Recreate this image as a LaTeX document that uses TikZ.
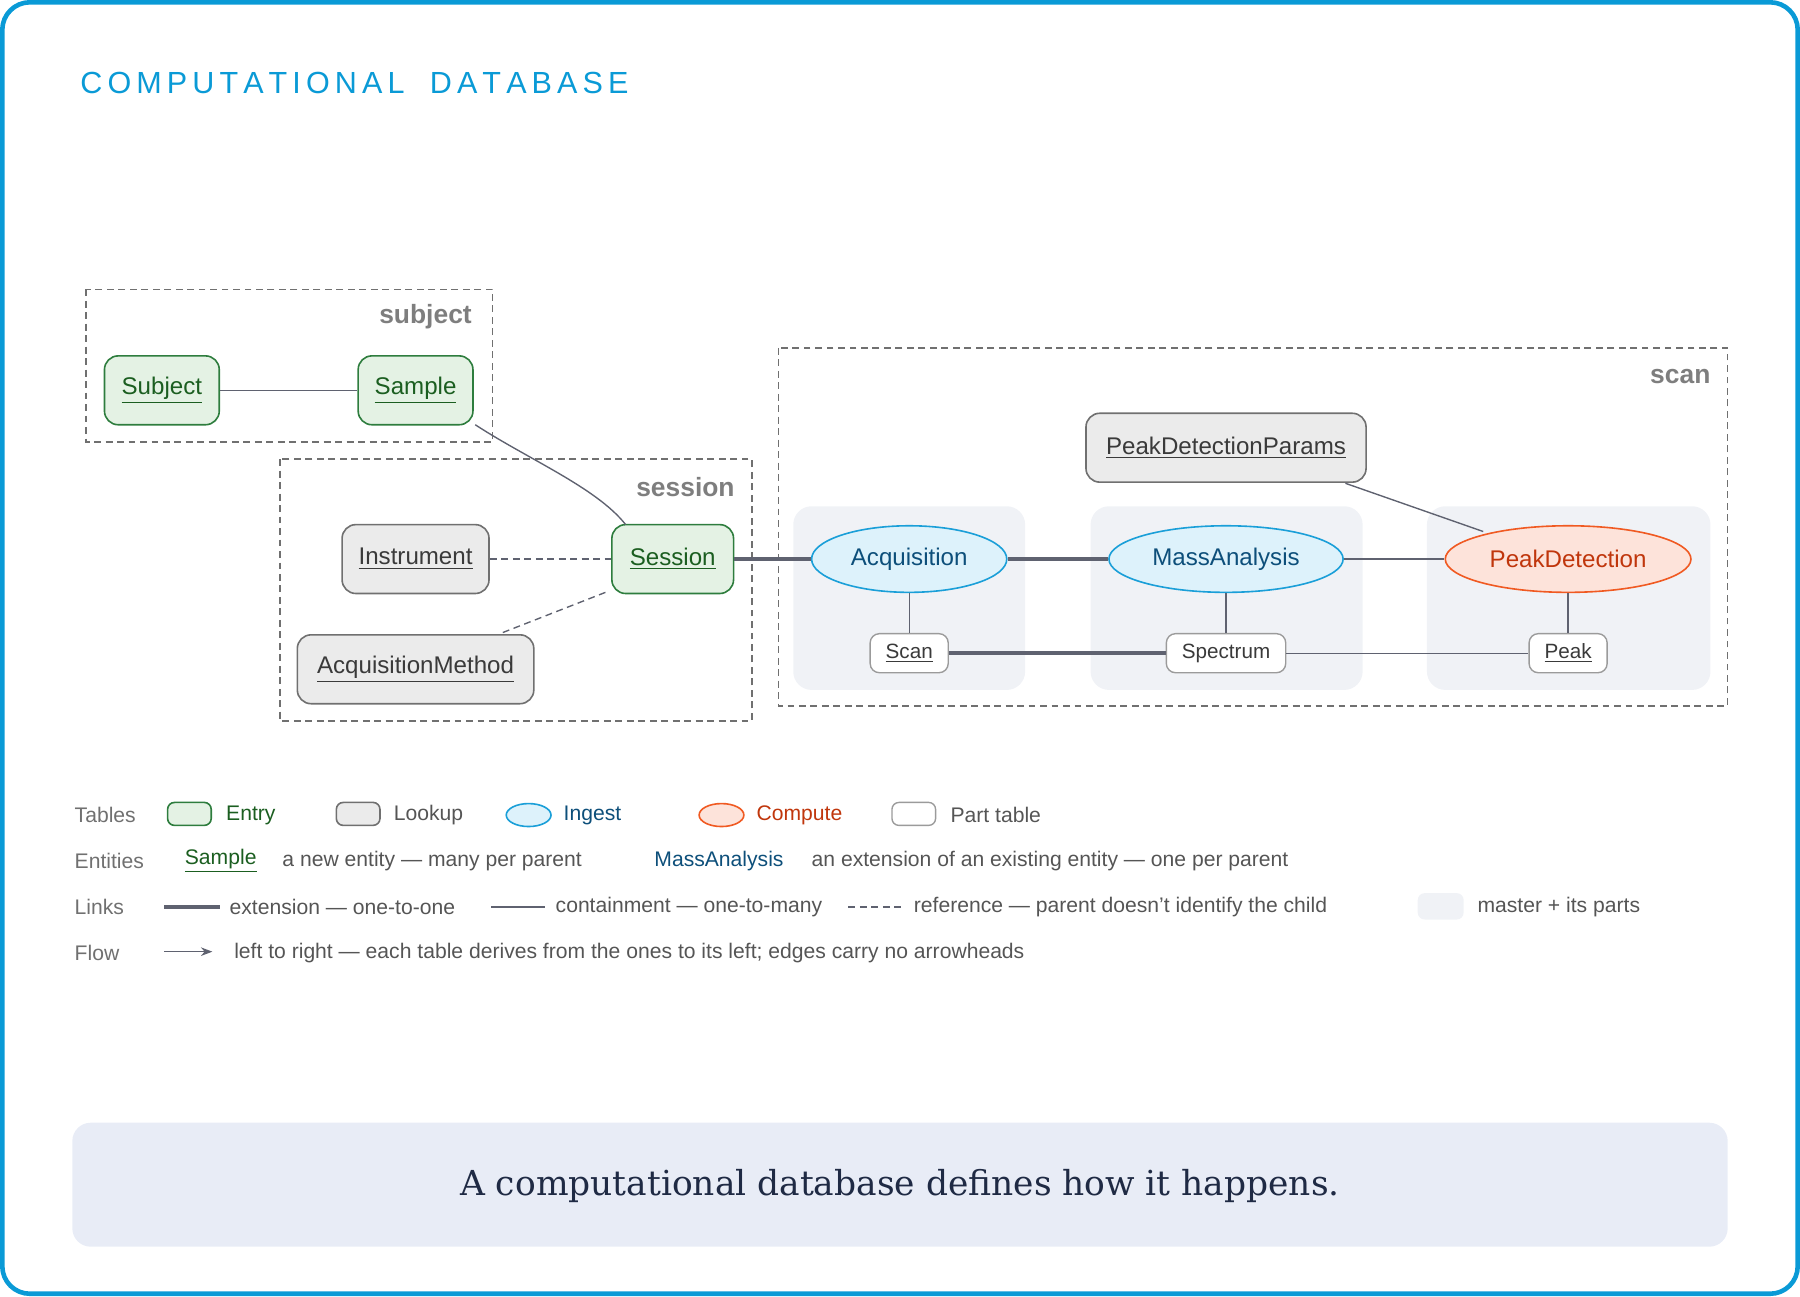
\documentclass[tikz,border=0pt]{standalone}
\usepackage{fontspec}
\setmainfont{Liberation Sans}
\newfontfamily\slab{DejaVu Serif}
\usetikzlibrary{shapes.geometric,arrows.meta}
\definecolor{blu}{HTML}{0A9AD6}
\definecolor{grnF}{HTML}{E4F2E4}\definecolor{grnD}{HTML}{2E7D3E}\definecolor{grnT}{HTML}{1B5E20}
\definecolor{grF}{HTML}{EBEBEB}\definecolor{grD}{HTML}{707070}\definecolor{grT}{HTML}{3A3A3A}
\definecolor{inF}{HTML}{DDF2FB}\definecolor{inD}{HTML}{1A9FD8}\definecolor{inT}{HTML}{0D4F7A}
\definecolor{coF}{HTML}{FDE3DA}\definecolor{coD}{HTML}{F05A22}\definecolor{coT}{HTML}{C0360C}
\definecolor{edgec}{HTML}{5F6270}\definecolor{shadec}{HTML}{F0F2F6}\definecolor{lbl}{HTML}{555555}
\definecolor{capF}{HTML}{E8ECF6}\definecolor{capT}{HTML}{1F2A44}
\begin{document}
\begin{tikzpicture}[x=0.5pt,y=-0.5pt,
 base/.style={font=\fontsize{10.5}{12}\selectfont, inner sep=0pt},
 entry/.style={base,draw=grnD,fill=grnF,text=grnT,rounded corners=6pt,line width=0.7pt},
 look/.style={base,draw=grD,fill=grF,text=grT,rounded corners=6pt,line width=0.7pt},
 ingest/.style={base,ellipse,draw=inD,fill=inF,text=inT,line width=0.7pt},
 comp/.style={base,ellipse,draw=coD,fill=coF,text=coT,line width=0.7pt},
 part/.style={base,font=\fontsize{9}{11}\selectfont,draw=grD!70,fill=white,text=grT,rounded corners=4pt,line width=0.6pt},
 grp/.style={draw=grD,line width=0.6pt,dash pattern=on 3pt off 2pt},
 glbl/.style={font=\bfseries\fontsize{11.5}{13}\selectfont,text=grD!90,anchor=east},
 thk/.style={draw=edgec,line width=2pt},
 thn/.style={draw=edgec,line width=0.6pt},
 ref/.style={draw=edgec,line width=0.6pt,dash pattern=on 3pt off 2pt},
 leg/.style={font=\fontsize{9.2}{11}\selectfont,text=lbl,anchor=west},
 legh/.style={font=\fontsize{9.2}{11}\selectfont,text=grD,anchor=west}]
\useasboundingbox (0,0) rectangle (1568,1129);
\draw[blu,line width=2pt,rounded corners=12pt] (2,2) rectangle (1566,1127);
\node[anchor=west,text=blu,font=\fontsize{13.3}{15}\selectfont] at (63,72) {C\,O\,M\,P\,U\,T\,A\,T\,I\,O\,N\,A\,L\;\; D\,A\,T\,A\,B\,A\,S\,E};
% groups
\draw[grp] (75,252) rectangle (429,385); \node[glbl] at (418,276) {subject};
\draw[grp] (244,400) rectangle (655,628); \node[glbl] at (647,424) {session};
\draw[grp] (678,303) rectangle (1505,615); \node[glbl] at (1497,328) {scan};
\fill[shadec,rounded corners=8pt] (691,441) rectangle (893,601);
\fill[shadec,rounded corners=8pt] (950,441) rectangle (1187,601);
\fill[shadec,rounded corners=8pt] (1243,441) rectangle (1490,601);
% nodes
\node[entry,minimum width=50pt,minimum height=30pt] (subj) at (141,340) {\underline{Subject}};
\node[entry,minimum width=50pt,minimum height=30pt] (samp) at (362,340) {\underline{Sample}};
\node[look,minimum width=64pt,minimum height=30pt] (inst) at (362,487) {\underline{Instrument}};
\node[look,minimum width=103pt,minimum height=30pt] (am) at (362,583) {\underline{AcquisitionMethod}};
\node[entry,minimum width=53pt,minimum height=30pt] (sess) at (586,487) {\underline{Session}};
\node[look,minimum width=122pt,minimum height=30pt] (pdp) at (1068,390) {\underline{PeakDetectionParams}};
\node[ingest,minimum width=85pt,minimum height=29pt] (acq) at (792,487) {Acquisition};
\node[ingest,minimum width=102pt,minimum height=29pt] (ma) at (1068,487) {MassAnalysis};
\node[comp,minimum width=107pt,minimum height=29pt] (pd) at (1366,487) {PeakDetection};
\node[part,minimum width=34pt,minimum height=17pt] (scan) at (792,569) {\underline{Scan}};
\node[part,minimum width=52pt,minimum height=17pt] (spec) at (1068,569) {Spectrum};
\node[part,minimum width=34pt,minimum height=17pt] (peak) at (1366,569) {\underline{Peak}};
\coordinate (c1) at (414,370); \coordinate (c2) at (545,457);
\coordinate (c3) at (438,551); \coordinate (c4) at (530,515);
\coordinate (c5) at (1172,421); \coordinate (c6) at (1292,463);
% edges
\draw[thn] (subj) -- (samp);
\draw[thn] (c1) .. controls (460,400) and (520,425) .. (c2);
\draw[ref] (inst) -- (sess);
\draw[ref] (c3) -- (c4);
\draw[thk] (sess) -- (acq);
\draw[thk] (acq) -- (ma);
\draw[thn] (ma) -- (pd);
\draw[thn] (c5) -- (c6);
\draw[thn] (acq) -- (scan);
\draw[thn] (ma) -- (spec);
\draw[thn] (pd) -- (peak);
\draw[thk] (scan) -- (spec);
\draw[thn] (spec) -- (peak);
% legend
\node[legh] at (58,710) {Tables};
\draw[grnD,fill=grnF,line width=0.7pt,rounded corners=3pt] (146,699) rectangle (184,719); \node[leg,text=grnT] at (190,710) {Entry};
\draw[grD,fill=grF,line width=0.7pt,rounded corners=3pt] (293,699) rectangle (331,719); \node[leg] at (336,710) {Lookup};
\draw[inD,fill=inF,line width=0.7pt] (460.5,710) ellipse (19.5 and 10); \node[leg,text=inT] at (484,710) {Ingest};
\draw[coD,fill=coF,line width=0.7pt] (628.5,710) ellipse (19.5 and 10); \node[leg,text=coT] at (652,710) {Compute};
\draw[grD!70,fill=white,line width=0.6pt,rounded corners=3pt] (777,699) rectangle (815,719); \node[leg] at (821,710) {Part table};
\node[legh] at (58,750) {Entities};
\node[leg,text=grnT] at (154,750) {\underline{Sample}};
\node[leg] at (239,750) {a new entity — many per parent};
\node[leg,text=inT] at (563,750) {MassAnalysis};
\node[leg] at (700,750) {an extension of an existing entity — one per parent};
\node[legh] at (58,790) {Links};
\draw[thk] (143,790) -- (192,790); \node[leg] at (193,790) {extension — one-to-one};
\draw[thn] (428,790) -- (475,790); \node[leg] at (477,790) {containment — one-to-many};
\draw[ref] (739,790) -- (787,790); \node[leg] at (789,790) {reference — parent doesn't identify the child};
\fill[shadec,rounded corners=3pt] (1235,778) rectangle (1275,801); \node[leg] at (1280,790) {master + its parts};
\node[legh] at (58,830) {Flow};
\draw[thn,-{Stealth[length=5pt]}] (143,829) -- (185,829); \node[leg] at (197,830) {left to right — each table derives from the ones to its left; edges carry no arrowheads};
% caption
\fill[capF,rounded corners=8pt] (63,978) rectangle (1505,1086);
\node[text=capT,font=\slab\fontsize{15}{18}\selectfont] at (784,1033) {A computational database defines how it happens.};
\end{tikzpicture}
\end{document}
